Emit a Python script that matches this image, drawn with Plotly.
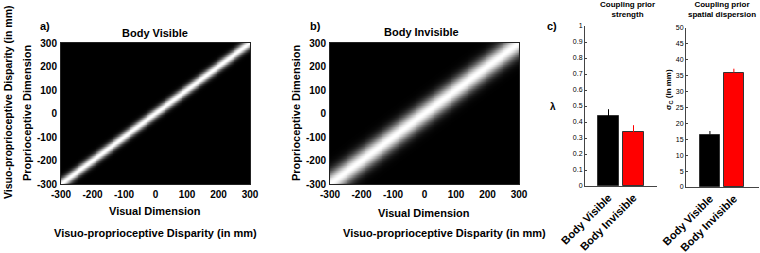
import numpy as np
import plotly.graph_objects as go

# ---------------- data ----------------
conditions = ["Body Visible", "Body Invisible"]
lambda_vals = [0.435, 0.335]
lambda_err = [0.045, 0.045]
sigma_vals = [16.5, 36.0]
sigma_err = [1.1, 1.2]
bar_colors = ["#000000", "#ff0000"]
grid_mm = list(range(-300, 301, 3))
axis_ticks = [-300, -200, -100, 0, 100, 200, 300]
axis_ticktext = ["-300", "-200", "-100", "0", "100", "200", "300"]

W, H = 760, 253
def px(x): return x / W
def py(y): return 1 - y / H

FONT = "Liberation Sans"
fig = go.Figure()

# coupling prior maps from sigma values
g = np.array(grid_mm, dtype=float)
XV, YP = np.meshgrid(g, g)
for i, s in enumerate(sigma_vals):
    z = np.exp(-(XV - YP) ** 2 / (2 * s ** 2))
    fig.add_trace(go.Heatmap(x=grid_mm, y=grid_mm, z=z, colorscale=[[0, "black"], [1, "white"]],
                             showscale=False, zmin=0, zmax=1, xaxis=f"x{i+1}", yaxis=f"y{i+1}",
                             hoverinfo="skip"))

# bar charts
for j, (vals, errs) in enumerate([(lambda_vals, lambda_err), (sigma_vals, sigma_err)]):
    ax = j + 3
    for k in range(2):
        fig.add_trace(go.Bar(x=[k], y=[vals[k]], width=0.84,
                             marker=dict(color=bar_colors[k], line=dict(color="#333", width=1)),
                             error_y=dict(type="data", array=[errs[k]], arrayminus=[0], symmetric=False,
                                          color=bar_colors[k], thickness=1, width=0),
                             xaxis=f"x{ax}", yaxis=f"y{ax}", showlegend=False))

tickf = dict(family=FONT, size=10, color="black", weight="bold")
hm_y = [py(184), py(43)]
heat_x = [[px(61), px(250)], [px(330), px(519)]]
layout = dict(width=W, height=H, margin=dict(l=0, r=0, t=0, b=0, autoexpand=False),
              paper_bgcolor="white", plot_bgcolor="white", showlegend=False, bargap=0)
for i in range(2):
    common = dict(range=[-300, 300], tickvals=axis_ticks, ticktext=axis_ticktext, tickfont=tickf,
                  ticks="outside", ticklen=1, tickcolor="white", showline=True, linecolor="#222",
                  mirror=True, linewidth=1, showgrid=False, zeroline=False, automargin=False)
    layout[f"xaxis{i+1}"] = dict(domain=heat_x[i], anchor=f"y{i+1}", **common)
    layout[f"yaxis{i+1}"] = dict(domain=hm_y, anchor=f"x{i+1}", **common)

bar_x = [[px(585), px(657)], [px(686), px(759)]]
bar_y = [[py(186), py(26)], [py(187), py(28)]]
bar_rng = [[-0.94, 1.94], [-1.0, 2.05]]
yt = [[round(v * 0.1, 1) for v in range(11)], list(range(0, 51, 5))]
ylim = [[0, 1], [0, 50]]
smallf = dict(family=FONT, size=7, color="black")
catf = dict(family=FONT, size=11, color="black", weight="bold")
for j in range(2):
    ax = j + 3
    layout[f"xaxis{ax}"] = dict(domain=bar_x[j], range=bar_rng[j], anchor=f"y{ax}",
                                tickvals=[0, 1], ticktext=conditions, tickangle=-45, tickfont=catf,
                                showline=True, linecolor="#444", linewidth=1, ticks="",
                                showgrid=False, zeroline=False, automargin=False)
    layout[f"yaxis{ax}"] = dict(domain=bar_y[j], range=ylim[j], anchor=f"x{ax}",
                                tickvals=yt[j], tickfont=smallf, ticks="inside", ticklen=2,
                                tickcolor="#444", showline=True, linecolor="#444", linewidth=1,
                                showgrid=False, zeroline=False, automargin=False)
fig.update_layout(**layout)

def ann(x, y, text, size=11, angle=0, xanchor="center", bold=True):
    fig.add_annotation(x=px(x), y=py(y), xref="paper", yref="paper", text=text, showarrow=False,
                       textangle=angle, xanchor=xanchor, yanchor="middle",
                       font=dict(family=FONT, size=size, color="black", weight="bold" if bold else "normal"))

ann(45, 26, "a)", 11)
ann(315, 26, "b)", 11)
ann(552, 26, "c)", 11)
ann(155, 33, "Body Visible", 11)
ann(422, 32, "Body Invisible", 11)
ann(155, 211, "Visual Dimension", 11)
ann(424, 213, "Visual Dimension", 11)
ann(155, 233, "Visuo-proprioceptive Disparity (in mm)", 11)
ann(444, 233, "Visuo-proprioceptive Disparity (in mm)", 11)
ann(27, 113, "Proprioceptive Dimension", 11, angle=-90)
ann(296, 113, "Proprioceptive Dimension", 11, angle=-90)
ann(8, 102, "Visuo-proprioceptive Disparity (in mm)", 10.5, angle=-90)
ann(627, 10, "Coupling prior<br>strength", 8)
ann(722, 10, "Coupling prior<br>spatial dispersion", 8)
ann(553, 106, "λ", 10)
ann(669, 90, "σ<sub>C</sub> (in mm)", 8, angle=-90)

fig.write_html("out.html", config={"displayModeBar": False},
               post_script="document.body.style.margin='0';document.body.style.overflow='hidden';")
